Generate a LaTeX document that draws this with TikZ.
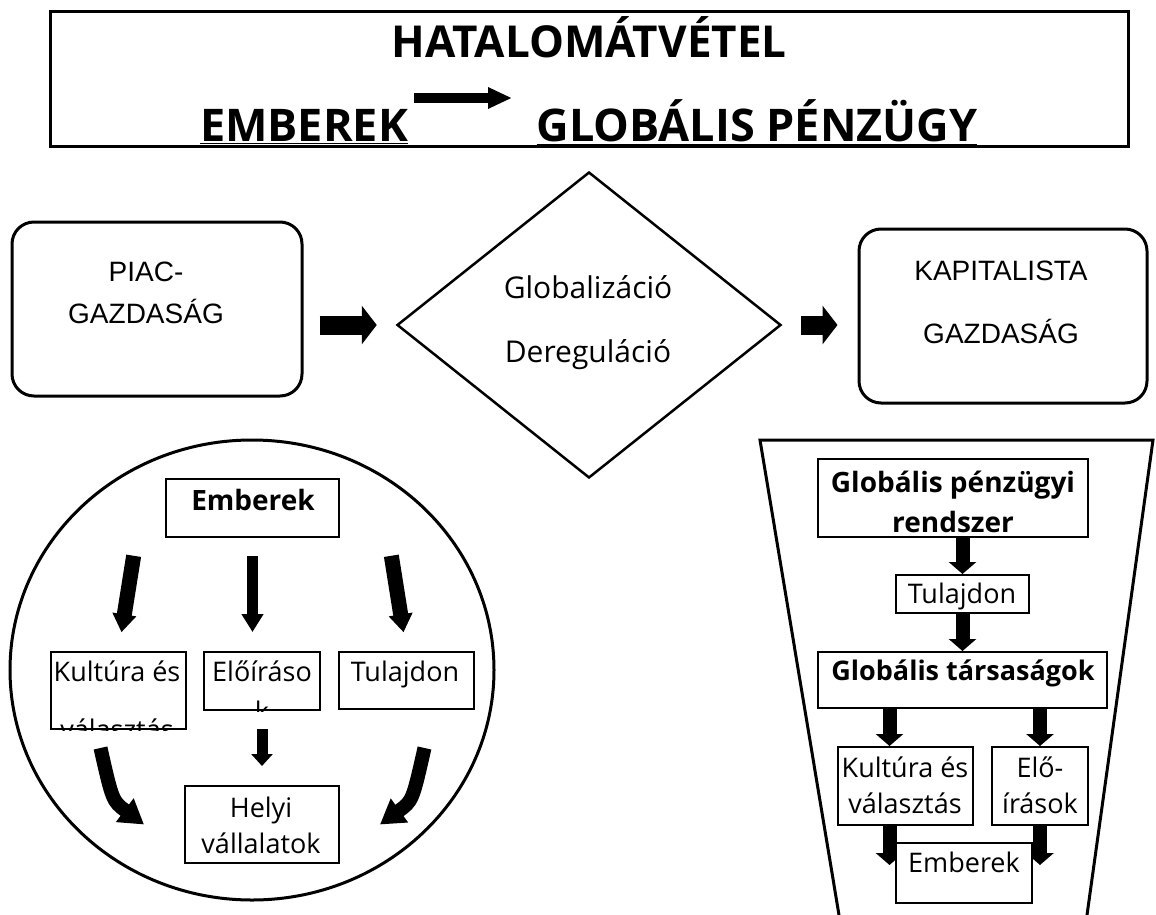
\documentclass[tikz,border=0pt]{standalone}
\usepackage{fontspec}
\setmainfont{Open Sans}
\newfontfamily\arialfont{Liberation Sans}
\usetikzlibrary{shapes.geometric, arrows.meta, positioning, calc}
\tikzset{
	box/.style={draw, line width=2pt, fill=white, inner sep=0pt},
	rbox/.style={draw, line width=3pt, rounded corners=22pt, inner sep=0pt},
	txt/.style={anchor=base, inner sep=0pt, font=\fontsize{27}{30}\selectfont},
	btxt/.style={anchor=base, inner sep=0pt, font=\fontsize{27}{30}\selectfont\bfseries},
	htxt/.style={anchor=base, inner sep=0pt, font=\fontsize{44}{50}\selectfont\bfseries},
	atxt/.style={anchor=base, inner sep=0pt, font=\fontsize{28}{32}\selectfont\arialfont},
	bigarrow/.style={line width=19pt, -{Triangle[length=15pt,width=38pt]}},
	titlearrow/.style={line width=10pt, -{Triangle[length=24pt,width=20pt]}},
	ringarrow/.style={line width=15pt, -{Triangle[length=18pt,width=23pt]}},
	funarrow/.style={line width=14pt, -{Triangle[length=12pt,width=27pt]}},
}
\begin{document}
\begin{tikzpicture}[x=1pt, y=-1pt]
	\useasboundingbox (0,0) rectangle (1156,915);

	% title
	\node[draw, line width=3pt, minimum width=1078pt, minimum height=134pt] (title) at (589,79) {};
	\node[htxt] (thata) at (589,58) {HATALOMÁTVÉTEL};
	\node[htxt, font=\fontsize{45}{50}\selectfont\bfseries] (temb) at (304,142) {\underline{EMBEREK}};
	\node[htxt, font=\fontsize{45}{50}\selectfont\bfseries] (tglob) at (757,142) {\underline{GLOBÁLIS PÉNZÜGY}};
	\coordinate (ta) at (414,98);
	\coordinate (tb) at (512,98);
	\draw[titlearrow] (ta) -- (tb);

	% top row
	\node[rbox, minimum width=290pt, minimum height=174pt] (piac) at (157,309) {};
	\node[atxt] (piac1) at (146,281) {PIAC-};
	\node[atxt] (piac2) at (146,323) {GAZDASÁG};
	\node[draw, diamond, line width=2.5pt, inner sep=0pt, aspect=1.25, minimum width=384pt, minimum height=306pt] (dia) at (589,325) {};
	\node[txt, font=\fontsize{30}{32}\selectfont] (dia1) at (588,298) {Globalizáció};
	\node[txt, font=\fontsize{30}{32}\selectfont] (dia2) at (588,362) {Dereguláció};
	\node[rbox, minimum width=288pt, minimum height=174pt] (kap) at (1003,316) {};
	\node[atxt] (kap1) at (1001,280) {KAPITALISTA};
	\node[atxt] (kap2) at (1001,343) {GAZDASÁG};
	\draw[bigarrow, shorten <=16pt, shorten >=19pt] (piac.east |- dia.west) -- (dia.west);
	\draw[bigarrow, shorten <=19pt, shorten >=20pt] (dia.east) -- (dia.east -| kap.west);

	% circle
	\node[draw, ellipse, line width=3pt, minimum width=484pt, minimum height=460pt] (ring) at (252,670) {};
	\node[box, minimum width=173pt, minimum height=58pt] (emb) at (252.5,508) {};
	\node[btxt, font=\fontsize{28}{30}\selectfont\bfseries] (emb1) at (253,510) {Emberek};
	\node[box, minimum width=135pt, minimum height=77pt] (kult) at (118.5,690.5) {};
	\node[txt] (kult1) at (117,681) {Kultúra és};
	\begin{scope}
		\clip (kult.south west) rectangle (kult.north east);
		\node[txt] (kult2) at (117,739) {választás};
	\end{scope}
	\node[box, minimum width=116pt, minimum height=58pt] (elo) at (262,681) {};
	\node[txt] (elo1) at (262,681) {Előíráso};
	\begin{scope}
		\clip (elo.south west) rectangle (elo.north east);
		\node[txt] (elo2) at (262,721) {k};
	\end{scope}
	\node[box, minimum width=135pt, minimum height=57pt] (tul) at (406.5,680.5) {};
	\node[txt] (tul1) at (405,681) {Tulajdon};
	\node[box, minimum width=154pt, minimum height=77pt] (helyi) at (262,824.5) {};
	\node[txt] (helyi1) at (261,817) {Helyi};
	\node[txt] (helyi2) at (261,853) {vállalatok};
	\draw[ringarrow, shorten <=18pt, shorten >=19pt] ([xshift=-116pt]emb.south) -- (kult.north);
	\draw[ringarrow, line width=11pt, -{Triangle[length=18pt,width=21pt]}, shorten <=18pt, shorten >=19pt] (emb.south) -- (emb.south |- elo.north);
	\draw[ringarrow, shorten <=18pt, shorten >=19pt] ([xshift=136pt]emb.south) -- (tul.north);
	\draw[ringarrow, line width=11pt, -{Triangle[length=12pt,width=21pt]}, shorten <=18pt, shorten >=19pt] (elo.south) -- (elo.south |- helyi.north);
	\draw[ringarrow, line width=14pt, -{Triangle[length=24pt,width=28pt]}] ([shift={(-18,18)}]kult.south) .. controls +(12,53) .. ([xshift=-40pt]helyi.west);
	\draw[ringarrow, line width=14pt, -{Triangle[length=24pt,width=28pt]}] ([shift={(18,38)}]tul.south) .. controls +(-12,53) .. ([xshift=40pt]helyi.east);

	% funnel
	\draw[line width=3pt] (839,915) -- (760,440) -- (1153,440) -- (1087,915);
	\node[box, minimum width=270pt, minimum height=78pt] (gpr) at (953,498) {};
	\node[btxt, font=\fontsize{28}{30}\selectfont\bfseries] (gpr1) at (953,492) {Globális pénzügyi};
	\node[btxt, font=\fontsize{28}{30}\selectfont\bfseries] (gpr2) at (953,532) {rendszer};
	\node[box, minimum width=133pt, minimum height=38pt] (tul2) at (962.5,594) {};
	\node[txt] (tul21) at (962,603) {Tulajdon};
	\node[box, minimum width=289pt, minimum height=56pt] (gt) at (962.5,680) {};
	\node[btxt] (gt1) at (963,680) {Globális társaságok};
	\node[box, minimum width=135pt, minimum height=78pt] (kv) at (905.5,786) {};
	\node[txt] (kv1) at (905,777) {Kultúra és};
	\node[txt] (kv2) at (905,813) {választás};
	\node[box, minimum width=96pt, minimum height=78pt] (eir) at (1040,786) {};
	\node[txt] (eir1) at (1040,777) {Elő-};
	\node[txt] (eir2) at (1040,813) {írások};
	\path ([xshift=-16pt]kv.north) coordinate (kvtop);
	\path ([xshift=-16pt]kv.south) coordinate (kvbot);
	\draw[funarrow] (tul2.north |- gpr.south) -- (tul2.north);
	\draw[funarrow] (tul2.south) -- (tul2.south |- gt.north);
	\draw[funarrow] (kvtop |- gt.south) -- (kvtop);
	\draw[funarrow] (eir.north |- gt.south) -- (eir.north);
	\draw[funarrow, shorten >=8pt] (kvbot) -- (kvbot |- 0,873);
	\draw[funarrow, shorten >=8pt] (eir.south) -- (eir.south |- 0,873);
	\node[box, minimum width=136pt, minimum height=60pt] (emb2) at (964,873) {};
	\node[txt] (emb21) at (964,872) {Emberek};
\end{tikzpicture}
\end{document}
